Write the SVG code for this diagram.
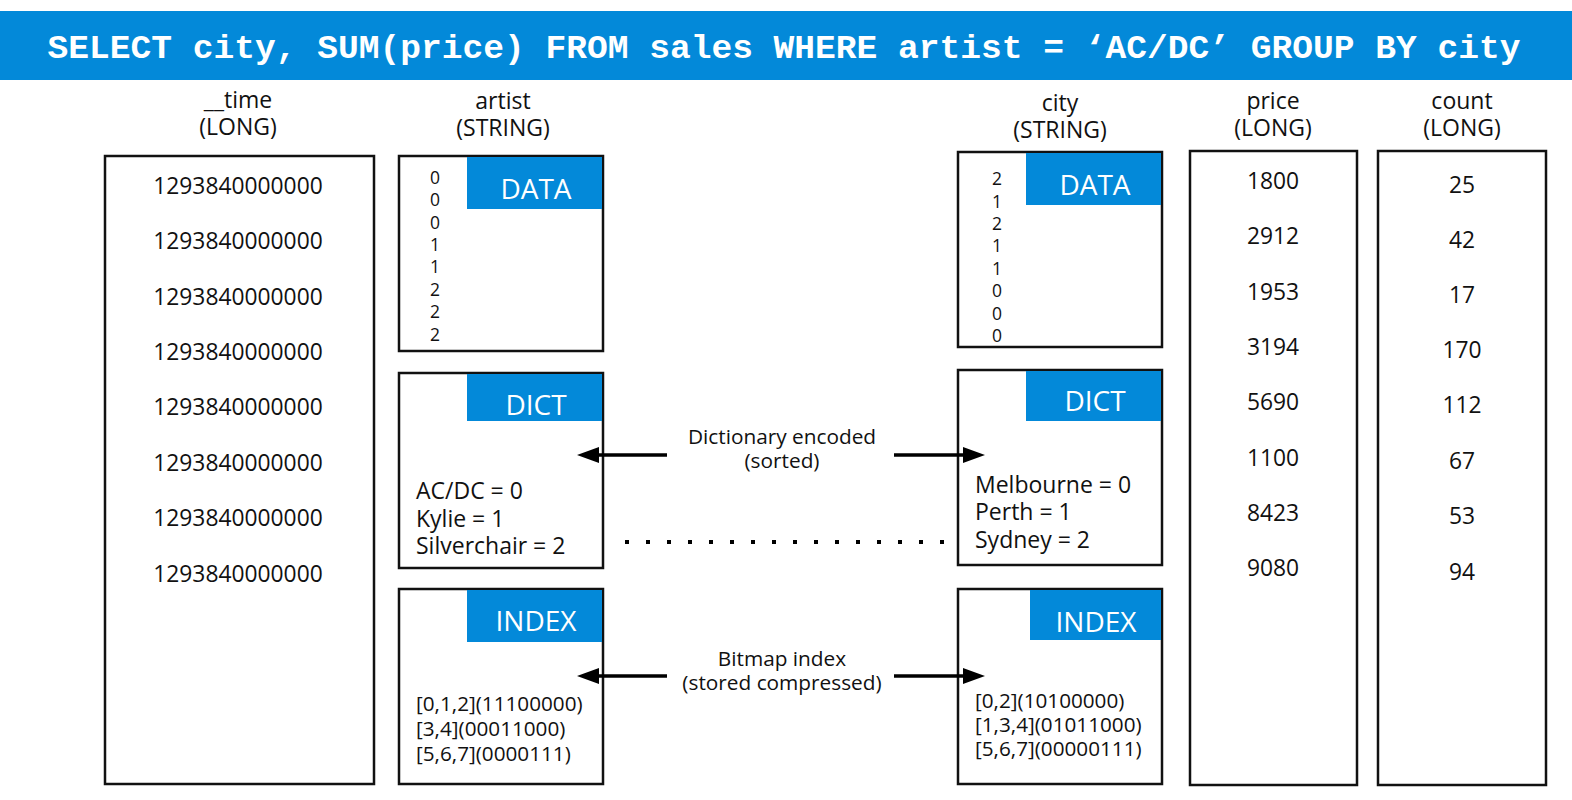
<svg xmlns="http://www.w3.org/2000/svg" width="1572" height="800" viewBox="0 0 1572 800">
<style>
text{font-family:"Open Sans","Liberation Sans",sans-serif;fill:#111;}
.hdr{font-size:23px;text-anchor:middle;}
.val{font-size:22.8px;text-anchor:middle;}
.dig{font-size:17.5px;text-anchor:middle;}
.tab{font-size:28px;fill:#fff;text-anchor:middle;}
.dict{font-size:23px;}
.idx{font-size:20.7px;}
.lbl{font-size:20.8px;text-anchor:middle;}
.box{fill:#fff;stroke:#111;stroke-width:2.5;}
.blue{fill:#0389d9;}
.arr{stroke:#000;stroke-width:3.5;fill:none;marker-end:url(#ah);}
</style>
<defs>
<marker id="ah" markerWidth="8" markerHeight="8" refX="0" refY="4" orient="auto" markerUnits="userSpaceOnUse" viewBox="0 0 8 8" overflow="visible">
<path d="M0,-4 L22,4 L0,12 z" transform="translate(-2,0)" fill="#000"/>
</marker>
</defs>
<g id="title">
<rect x="0" y="11" width="1572" height="69" class="blue"/>
<text x="784" y="58" style="font-family:'Liberation Mono','Courier New',monospace;font-weight:bold;font-size:34px;fill:#fff;text-anchor:middle" textLength="1473" lengthAdjust="spacingAndGlyphs">SELECT city, SUM(price) FROM sales WHERE artist = ‘AC/DC’ GROUP BY city</text>
</g>
<g id="col-time">
<text class="hdr" x="238" y="108">__time</text>
<text class="hdr" x="238" y="135">(LONG)</text>
<rect class="box" x="105" y="156" width="269" height="628"/>
<text class="val" x="238" y="194">1293840000000</text>
<text class="val" x="238" y="249">1293840000000</text>
<text class="val" x="238" y="305">1293840000000</text>
<text class="val" x="238" y="360">1293840000000</text>
<text class="val" x="238" y="415">1293840000000</text>
<text class="val" x="238" y="471">1293840000000</text>
<text class="val" x="238" y="526">1293840000000</text>
<text class="val" x="238" y="582">1293840000000</text>
</g>
<g id="col-artist">
<text class="hdr" x="503" y="109">artist</text>
<text class="hdr" x="503" y="136">(STRING)</text>
</g>
<g id="artist-data">
<rect class="box" x="399" y="156" width="204" height="195"/>
<rect class="blue" x="467" y="157" width="135" height="52"/>
<text class="tab" x="536" y="199">DATA</text>
<text class="dig" x="435" y="184">0</text>
<text class="dig" x="435" y="206">0</text>
<text class="dig" x="435" y="229">0</text>
<text class="dig" x="435" y="251">1</text>
<text class="dig" x="435" y="273">1</text>
<text class="dig" x="435" y="296">2</text>
<text class="dig" x="435" y="318">2</text>
<text class="dig" x="435" y="341">2</text>
</g>
<g id="artist-dict">
<rect class="box" x="399" y="373" width="204" height="195"/>
<rect class="blue" x="467" y="374" width="135" height="47"/>
<text class="tab" x="536" y="415">DICT</text>
<text class="dict" x="416" y="499">AC/DC = 0</text>
<text class="dict" x="416" y="527">Kylie = 1</text>
<text class="dict" x="416" y="554">Silverchair = 2</text>
</g>
<g id="artist-index">
<rect class="box" x="399" y="589" width="204" height="195"/>
<rect class="blue" x="467" y="590" width="135" height="52"/>
<text class="tab" x="536" y="631">INDEX</text>
<text class="idx" x="416" y="711">[0,1,2](11100000)</text>
<text class="idx" x="416" y="736">[3,4](00011000)</text>
<text class="idx" x="416" y="761">[5,6,7](0000111)</text>
</g>
<g id="col-city">
<text class="hdr" x="1060" y="111">city</text>
<text class="hdr" x="1060" y="138">(STRING)</text>
</g>
<g id="city-data">
<rect class="box" x="958" y="152" width="204" height="195"/>
<rect class="blue" x="1026" y="153" width="135" height="52"/>
<text class="tab" x="1095" y="195">DATA</text>
<text class="dig" x="997" y="185">2</text>
<text class="dig" x="997" y="208">1</text>
<text class="dig" x="997" y="230">2</text>
<text class="dig" x="997" y="252">1</text>
<text class="dig" x="997" y="275">1</text>
<text class="dig" x="997" y="297">0</text>
<text class="dig" x="997" y="320">0</text>
<text class="dig" x="997" y="342">0</text>
</g>
<g id="city-dict">
<rect class="box" x="958" y="370" width="204" height="195"/>
<rect class="blue" x="1026" y="371" width="135" height="50"/>
<text class="tab" x="1095" y="411">DICT</text>
<text class="dict" x="975" y="493">Melbourne = 0</text>
<text class="dict" x="975" y="520">Perth = 1</text>
<text class="dict" x="975" y="548">Sydney = 2</text>
</g>
<g id="city-index">
<rect class="box" x="958" y="589" width="204" height="195"/>
<rect class="blue" x="1030" y="590" width="131" height="50"/>
<text class="tab" x="1096" y="632">INDEX</text>
<text class="idx" x="975" y="708">[0,2](10100000)</text>
<text class="idx" x="975" y="732">[1,3,4](01011000)</text>
<text class="idx" x="975" y="756">[5,6,7](00000111)</text>
</g>
<g id="col-price">
<text class="hdr" x="1273" y="109">price</text>
<text class="hdr" x="1273" y="136">(LONG)</text>
<rect class="box" x="1190" y="151" width="167" height="634"/>
<text class="val" x="1273" y="189">1800</text>
<text class="val" x="1273" y="244">2912</text>
<text class="val" x="1273" y="300">1953</text>
<text class="val" x="1273" y="355">3194</text>
<text class="val" x="1273" y="410">5690</text>
<text class="val" x="1273" y="466">1100</text>
<text class="val" x="1273" y="521">8423</text>
<text class="val" x="1273" y="576">9080</text>
</g>
<g id="col-count">
<text class="hdr" x="1462" y="109">count</text>
<text class="hdr" x="1462" y="136">(LONG)</text>
<rect class="box" x="1378" y="151" width="168" height="634"/>
<text class="val" x="1462" y="193">25</text>
<text class="val" x="1462" y="248">42</text>
<text class="val" x="1462" y="303">17</text>
<text class="val" x="1462" y="358">170</text>
<text class="val" x="1462" y="413">112</text>
<text class="val" x="1462" y="469">67</text>
<text class="val" x="1462" y="524">53</text>
<text class="val" x="1462" y="580">94</text>
</g>
<g id="connectors">
<text class="lbl" x="782" y="444">Dictionary encoded</text>
<text class="lbl" x="782" y="468">(sorted)</text>
<line class="arr" x1="667" y1="455" x2="597" y2="455"/>
<line class="arr" x1="894" y1="455" x2="965" y2="455"/>
<line x1="625" y1="542" x2="945" y2="542" stroke="#000" stroke-width="4" stroke-dasharray="4 17"/>
<text class="lbl" x="782" y="666">Bitmap index</text>
<text class="lbl" x="782" y="690">(stored compressed)</text>
<line class="arr" x1="667" y1="676" x2="597" y2="676"/>
<line class="arr" x1="894" y1="676" x2="965" y2="676"/>
</g>
</svg>
